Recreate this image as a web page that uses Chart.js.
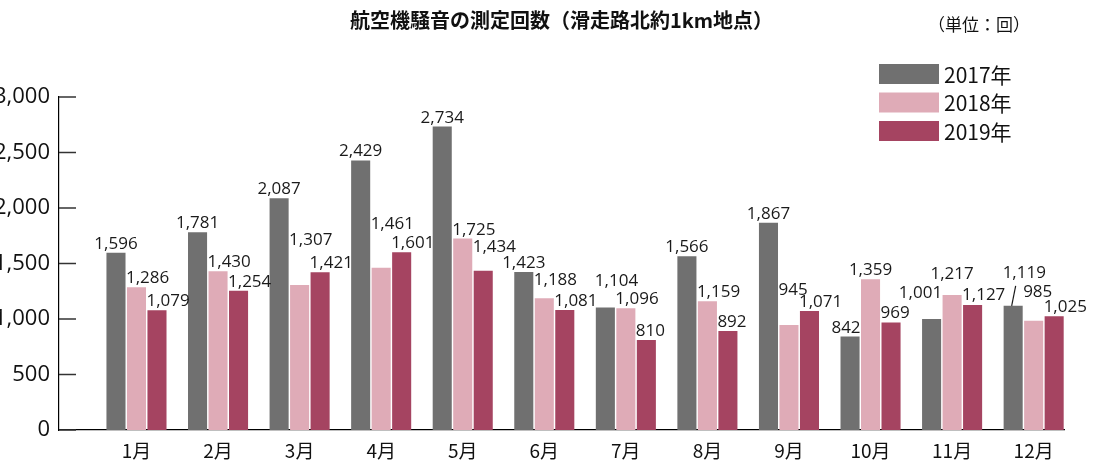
<!DOCTYPE html>
<html>
<head>
<meta charset="utf-8">
<script src="https://cdn.jsdelivr.net/npm/chart.js@4/dist/chart.umd.min.js"></script>
<style>
  html, body { margin: 0; padding: 0; background: #fff; }
  #wrap { width: 1093px; height: 463px; }
</style>
</head>
<body>
<div id="wrap"><canvas id="noiseChart"></canvas></div>
<script>
// data
const months = ['1月', '2月', '3月', '4月', '5月', '6月', '7月', '8月', '9月', '10月', '11月', '12月'];
const years = ['2017年', '2018年', '2019年'];
const counts2017 = [1596, 1781, 2087, 2429, 2734, 1423, 1104, 1566, 1867, 842, 1001, 1119];
const counts2018 = [1286, 1430, 1307, 1461, 1725, 1188, 1096, 1159, 945, 1359, 1217, 985];
const counts2019 = [1079, 1254, 1421, 1601, 1434, 1081, 810, 892, 1071, 969, 1127, 1025];
const yMax = 3000;
const yStep = 500;

const titleText = '航空機騒音の測定回数（滑走路北約1km地点）';
const unitText = '（単位：回）';
const colors = ['#707070', '#dfabb7', '#a54461'];

// how each value label sits on its bar: c = centred, l = starts at bar left, r = ends at bar right
const labelAlign = ['cccccclccrrl', 'lllllllllccl', 'llllllllllll'];
// extra lift (px) for labels moved up to dodge neighbours
const labelLift = [
  [0, 0, 0, 0, 0, 0, 17, 0, 0, 0, 17, 24],
  [0, 0, 36, 35, 0, 9, 0, 0, 26, 0, 12, 20],
  [0, 0, 0, 0, 15, 0, 0, 0, 0, 0, 1, 0]
];
const leaderLines = [[0, 11]]; // dataset, month

const jpFont = '"Noto Sans CJK JP", "Noto Sans", sans-serif';
const numFont = '"Open Sans", "Noto Sans", sans-serif';

// ticks on the inside of the y axis
const innerTicks = {
  id: 'innerTicks',
  afterDraw(chart) {
    const ctx = chart.ctx;
    const ys = chart.scales.y;
    const left = chart.chartArea.left;
    ctx.save();
    ctx.strokeStyle = '#333';
    ctx.lineWidth = 1.5;
    ys.ticks.forEach(t => {
      const y = ys.getPixelForValue(t.value);
      ctx.beginPath();
      ctx.moveTo(left, y);
      ctx.lineTo(left + 17, y);
      ctx.stroke();
    });
    ctx.restore();
  }
};

// value labels above bars
const valueLabels = {
  id: 'valueLabels',
  afterDatasetsDraw(chart) {
    const ctx = chart.ctx;
    ctx.save();
    ctx.font = '17px ' + numFont;
    ctx.fillStyle = '#1a1a1a';
    ctx.textBaseline = 'alphabetic';
    chart.data.datasets.forEach((ds, di) => {
      const meta = chart.getDatasetMeta(di);
      meta.data.forEach((bar, i) => {
        const val = ds.data[i];
        const txt = val.toLocaleString('en-US');
        const a = labelAlign[di][i];
        let x = bar.x;
        if (a === 'l') { ctx.textAlign = 'left'; x = bar.x - bar.width / 2 - 1; }
        else if (a === 'r') { ctx.textAlign = 'right'; x = bar.x + bar.width / 2 + 1; }
        else { ctx.textAlign = 'center'; }
        const y = bar.y - 4 - labelLift[di][i];
        ctx.fillText(txt, x, y);
      });
    });
    ctx.strokeStyle = '#1a1a1a';
    ctx.lineWidth = 1.2;
    leaderLines.forEach(([di, i]) => {
      const bar = chart.getDatasetMeta(di).data[i];
      ctx.beginPath();
      ctx.moveTo(bar.x - 1.5, bar.y);
      ctx.lineTo(bar.x + 2.5, bar.y - 20);
      ctx.stroke();
    });
    ctx.restore();
  }
};

// legend box in the top right + unit note
const cornerNotes = {
  id: 'cornerNotes',
  afterDraw(chart) {
    const ctx = chart.ctx;
    ctx.save();
    ctx.fillStyle = '#111';
    ctx.font = '17px ' + jpFont;
    ctx.textAlign = 'right';
    ctx.textBaseline = 'middle';
    ctx.fillText(unitText, 1030, 25);

    ctx.font = '21px ' + jpFont;
    ctx.textAlign = 'left';
    chart.data.datasets.forEach((ds, i) => {
      const cy = 74 + i * 28.5;
      ctx.fillStyle = ds.backgroundColor;
      ctx.fillRect(879, cy - 10, 60, 20);
      ctx.fillStyle = '#111';
      ctx.fillText(ds.label, 944, cy + 1);
    });
    ctx.restore();
  }
};

const monthPos = months.map((m, i) => i + 1);

new Chart(document.getElementById('noiseChart'), {
  type: 'bar',
  data: {
    labels: monthPos,
    datasets: [
      { label: years[0], data: counts2017, backgroundColor: colors[0] },
      { label: years[1], data: counts2018, backgroundColor: colors[1] },
      { label: years[2], data: counts2019, backgroundColor: colors[2] }
    ]
  },
  options: {
    responsive: true,
    maintainAspectRatio: false,
    animation: false,
    layout: { padding: { right: 29 } },
    datasets: {
      bar: { categoryPercentage: 0.754, barPercentage: 0.93 }
    },
    plugins: {
      legend: { display: false },
      tooltip: { enabled: false },
      title: {
        display: true,
        text: titleText,
        fullSize: false,
        color: '#111',
        font: { family: jpFont, size: 20, weight: 'bold' },
        padding: { top: 8, bottom: 65 }
      }
    },
    scales: {
      x: {
        type: 'linear',
        offset: false,
        min: 0.05,
        max: 12.372,
        grid: { display: false, drawTicks: false, offset: false },
        border: { display: true, color: '#000', width: 1.2 },
        ticks: {
          stepSize: 1,
          maxTicksLimit: 20,
          includeBounds: false,
          autoSkip: false,
          maxRotation: 0,
          padding: 9,
          color: '#111',
          font: { family: jpFont, size: 19 },
          callback: v => months[v - 1] || ''
        },
        afterFit: s => { s.height = 33; }
      },
      y: {
        min: 0,
        max: yMax,
        grid: { display: false, drawTicks: false },
        border: { display: true, color: '#000', width: 1.2 },
        ticks: {
          stepSize: yStep,
          padding: 9,
          color: '#111',
          font: { family: numFont, size: 22 },
          callback: v => v.toLocaleString('en-US')
        },
        afterFit: s => { s.width = 59; }
      }
    }
  },
  plugins: [innerTicks, valueLabels, cornerNotes]
});
</script>
</body>
</html>
